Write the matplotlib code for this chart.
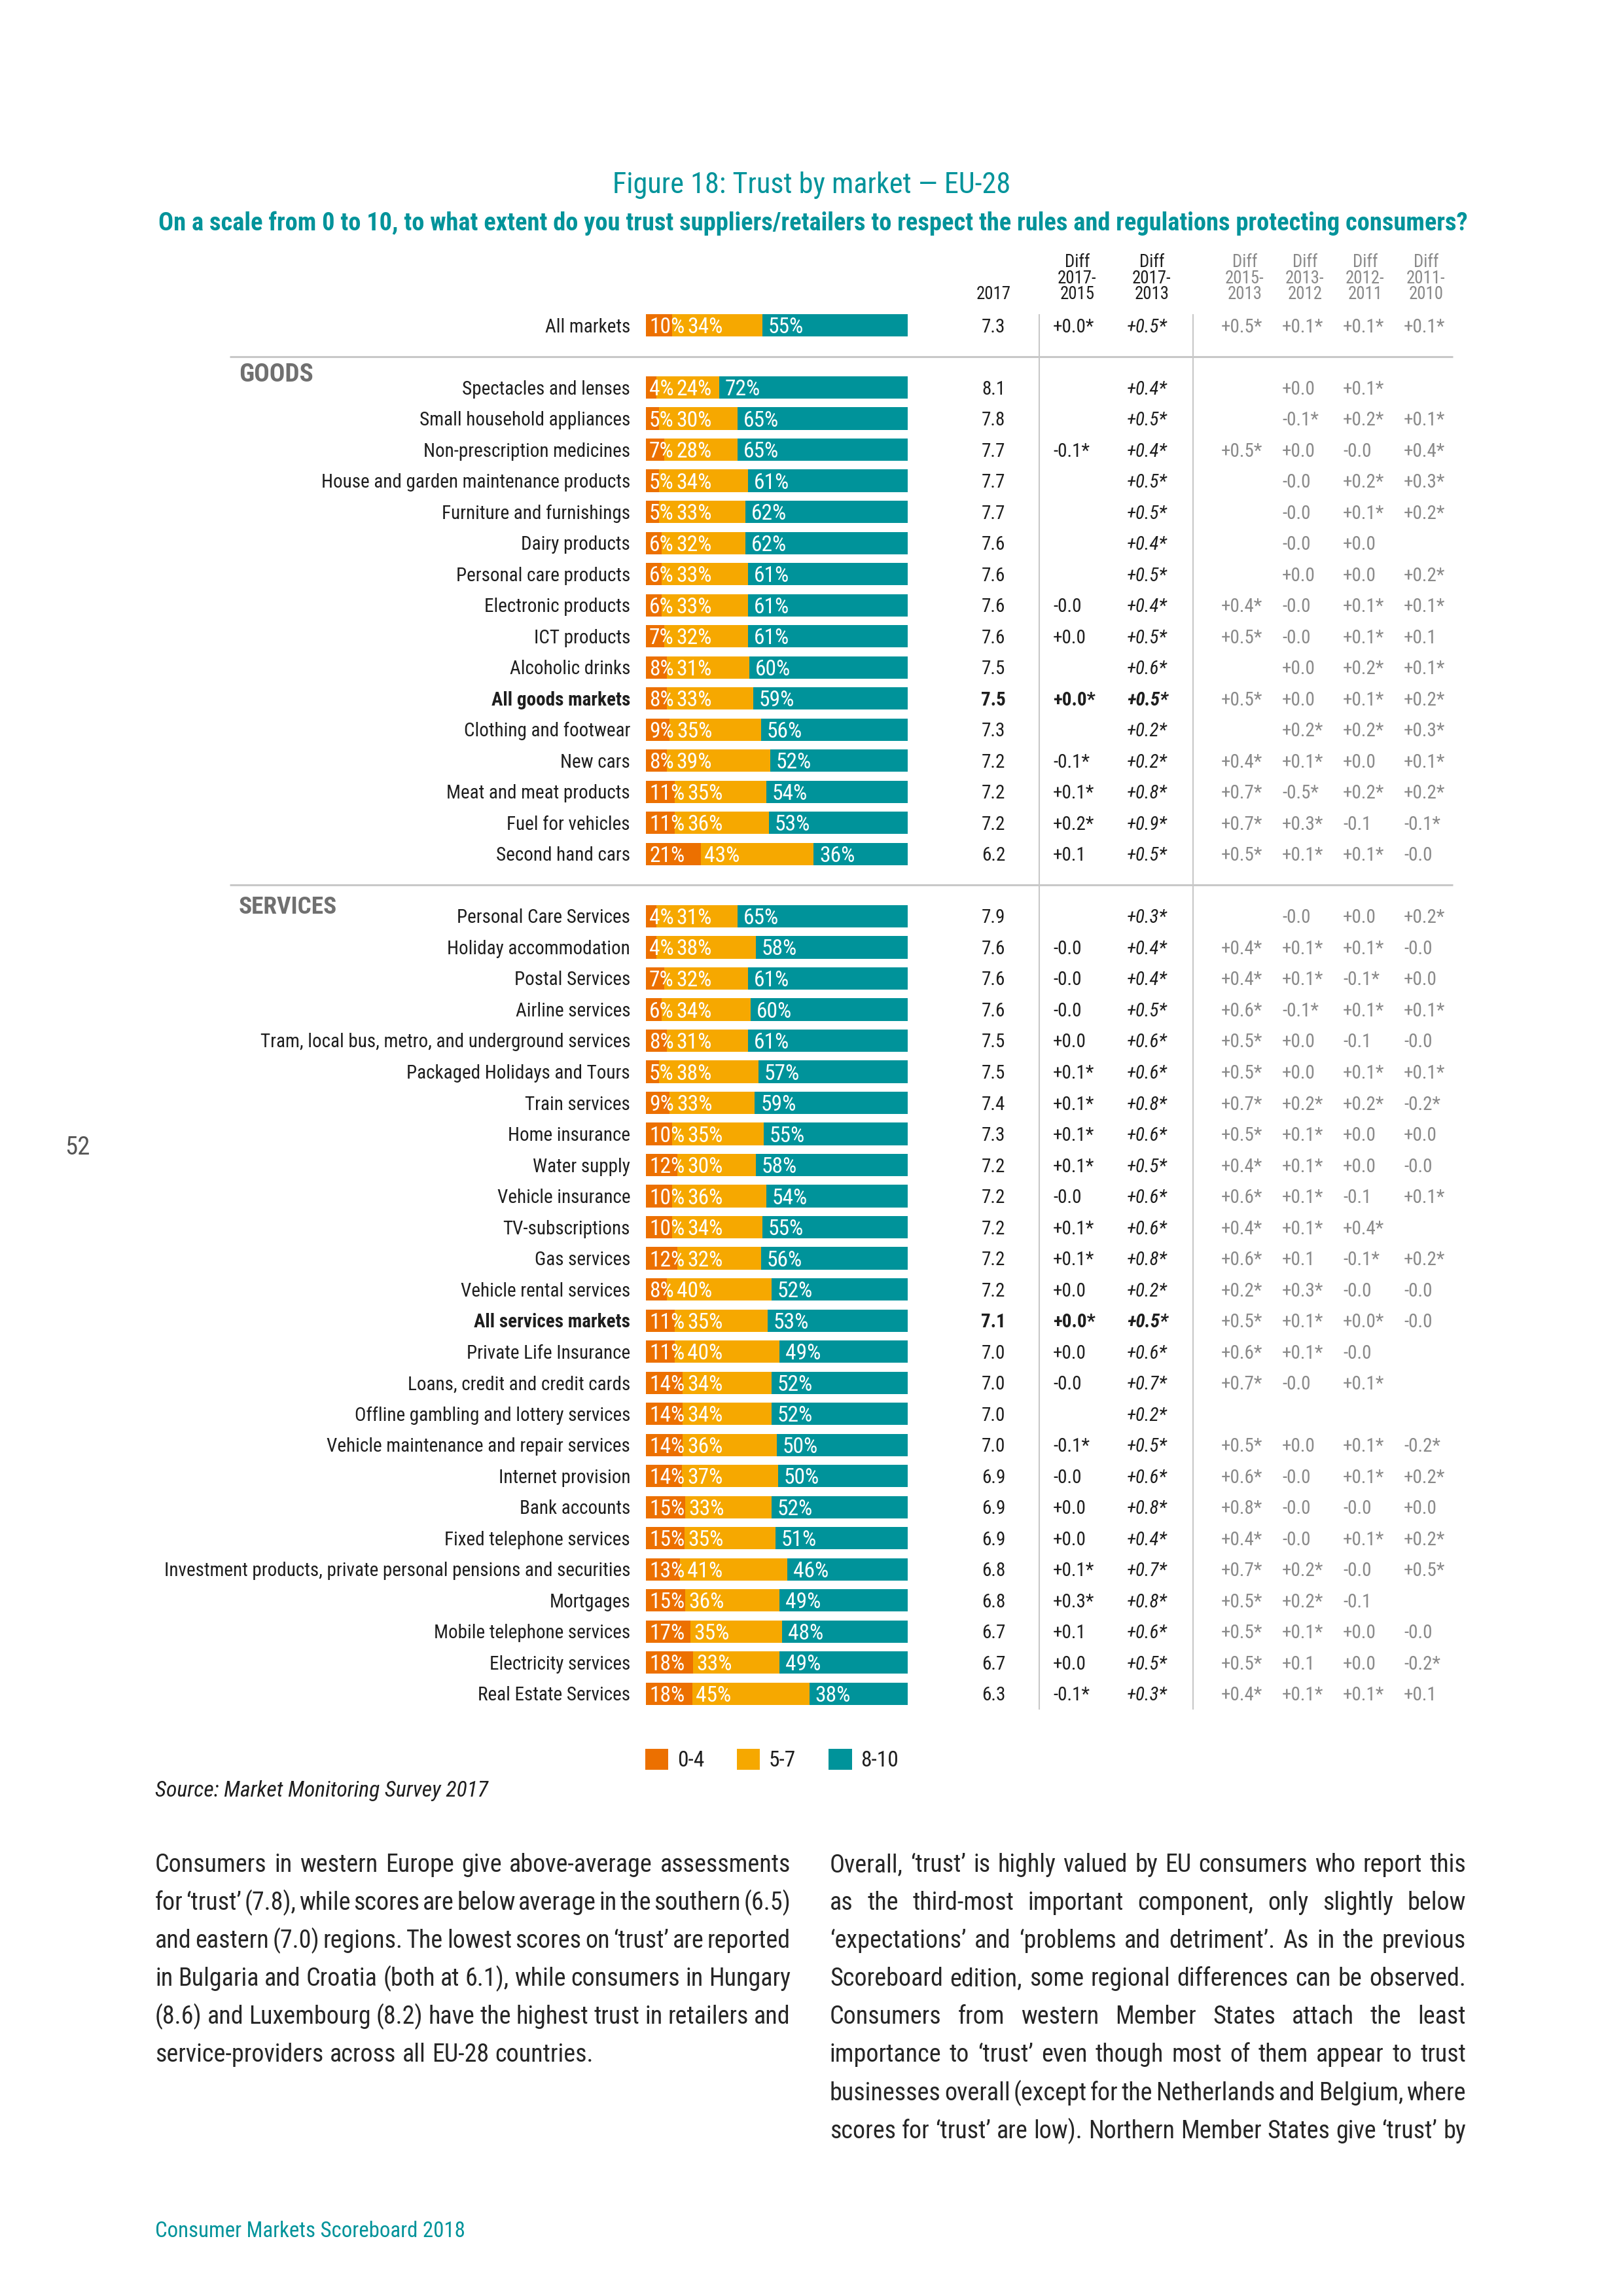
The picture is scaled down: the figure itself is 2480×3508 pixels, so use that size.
import matplotlib
matplotlib.use('Agg')
import matplotlib.pyplot as plt
from matplotlib import font_manager
from matplotlib.transforms import blended_transform_factory
import numpy as np

# ---------------------------------------------------------------- data
all_labels = ['All markets']
all_low = [10]
all_mid = [34]
all_high = [55]
all_score = [7.3]
all_d1715 = ['+0.0*']
all_d1713 = ['+0.5*']
all_d1513 = ['+0.5*']
all_d1312 = ['+0.1*']
all_d1211 = ['+0.1*']
all_d1110 = ['+0.1*']

goods_labels = ['Spectacles and lenses', 'Small household appliances', 'Non-prescription medicines',
                'House and garden maintenance products', 'Furniture and furnishings', 'Dairy products',
                'Personal care products', 'Electronic products', 'ICT products', 'Alcoholic drinks',
                'All goods markets', 'Clothing and footwear', 'New cars', 'Meat and meat products',
                'Fuel for vehicles', 'Second hand cars']
goods_low = [4, 5, 7, 5, 5, 6, 6, 6, 7, 8, 8, 9, 8, 11, 11, 21]
goods_mid = [24, 30, 28, 34, 33, 32, 33, 33, 32, 31, 33, 35, 39, 35, 36, 43]
goods_high = [72, 65, 65, 61, 62, 62, 61, 61, 61, 60, 59, 56, 52, 54, 53, 36]
goods_score = [8.1, 7.8, 7.7, 7.7, 7.7, 7.6, 7.6, 7.6, 7.6, 7.5, 7.5, 7.3, 7.2, 7.2, 7.2, 6.2]
goods_d1715 = ['', '', '-0.1*', '', '', '', '', '-0.0', '+0.0', '', '+0.0*', '', '-0.1*', '+0.1*', '+0.2*', '+0.1']
goods_d1713 = ['+0.4*', '+0.5*', '+0.4*', '+0.5*', '+0.5*', '+0.4*', '+0.5*', '+0.4*', '+0.5*', '+0.6*',
               '+0.5*', '+0.2*', '+0.2*', '+0.8*', '+0.9*', '+0.5*']
goods_d1513 = ['', '', '+0.5*', '', '', '', '', '+0.4*', '+0.5*', '', '+0.5*', '', '+0.4*', '+0.7*', '+0.7*', '+0.5*']
goods_d1312 = ['+0.0', '-0.1*', '+0.0', '-0.0', '-0.0', '-0.0', '+0.0', '-0.0', '-0.0', '+0.0', '+0.0',
               '+0.2*', '+0.1*', '-0.5*', '+0.3*', '+0.1*']
goods_d1211 = ['+0.1*', '+0.2*', '-0.0', '+0.2*', '+0.1*', '+0.0', '+0.0', '+0.1*', '+0.1*', '+0.2*', '+0.1*',
               '+0.2*', '+0.0', '+0.2*', '-0.1', '+0.1*']
goods_d1110 = ['', '+0.1*', '+0.4*', '+0.3*', '+0.2*', '', '+0.2*', '+0.1*', '+0.1', '+0.1*', '+0.2*',
               '+0.3*', '+0.1*', '+0.2*', '-0.1*', '-0.0']

serv_labels = ['Personal Care Services', 'Holiday accommodation', 'Postal Services', 'Airline services',
               'Tram, local bus, metro, and underground services', 'Packaged Holidays and Tours',
               'Train services', 'Home insurance', 'Water supply', 'Vehicle insurance', 'TV-subscriptions',
               'Gas services', 'Vehicle rental services', 'All services markets', 'Private Life Insurance',
               'Loans, credit and credit cards', 'Offline gambling and lottery services',
               'Vehicle maintenance and repair services', 'Internet provision', 'Bank accounts',
               'Fixed telephone services', 'Investment products, private personal pensions and securities',
               'Mortgages', 'Mobile telephone services', 'Electricity services', 'Real Estate Services']
serv_low = [4, 4, 7, 6, 8, 5, 9, 10, 12, 10, 10, 12, 8, 11, 11, 14, 14, 14, 14, 15, 15, 13, 15, 17, 18, 18]
serv_mid = [31, 38, 32, 34, 31, 38, 33, 35, 30, 36, 34, 32, 40, 35, 40, 34, 34, 36, 37, 33, 35, 41, 36, 35, 33, 45]
serv_high = [65, 58, 61, 60, 61, 57, 59, 55, 58, 54, 55, 56, 52, 53, 49, 52, 52, 50, 50, 52, 51, 46, 49, 48, 49, 38]
serv_score = [7.9, 7.6, 7.6, 7.6, 7.5, 7.5, 7.4, 7.3, 7.2, 7.2, 7.2, 7.2, 7.2, 7.1, 7.0, 7.0, 7.0, 7.0,
              6.9, 6.9, 6.9, 6.8, 6.8, 6.7, 6.7, 6.3]
serv_d1715 = ['', '-0.0', '-0.0', '-0.0', '+0.0', '+0.1*', '+0.1*', '+0.1*', '+0.1*', '-0.0', '+0.1*', '+0.1*',
              '+0.0', '+0.0*', '+0.0', '-0.0', '', '-0.1*', '-0.0', '+0.0', '+0.0', '+0.1*', '+0.3*', '+0.1',
              '+0.0', '-0.1*']
serv_d1713 = ['+0.3*', '+0.4*', '+0.4*', '+0.5*', '+0.6*', '+0.6*', '+0.8*', '+0.6*', '+0.5*', '+0.6*', '+0.6*',
              '+0.8*', '+0.2*', '+0.5*', '+0.6*', '+0.7*', '+0.2*', '+0.5*', '+0.6*', '+0.8*', '+0.4*', '+0.7*',
              '+0.8*', '+0.6*', '+0.5*', '+0.3*']
serv_d1513 = ['', '+0.4*', '+0.4*', '+0.6*', '+0.5*', '+0.5*', '+0.7*', '+0.5*', '+0.4*', '+0.6*', '+0.4*',
              '+0.6*', '+0.2*', '+0.5*', '+0.6*', '+0.7*', '', '+0.5*', '+0.6*', '+0.8*', '+0.4*', '+0.7*',
              '+0.5*', '+0.5*', '+0.5*', '+0.4*']
serv_d1312 = ['-0.0', '+0.1*', '+0.1*', '-0.1*', '+0.0', '+0.0', '+0.2*', '+0.1*', '+0.1*', '+0.1*', '+0.1*',
              '+0.1', '+0.3*', '+0.1*', '+0.1*', '-0.0', '', '+0.0', '-0.0', '-0.0', '-0.0', '+0.2*', '+0.2*',
              '+0.1*', '+0.1', '+0.1*']
serv_d1211 = ['+0.0', '+0.1*', '-0.1*', '+0.1*', '-0.1', '+0.1*', '+0.2*', '+0.0', '+0.0', '-0.1', '+0.4*',
              '-0.1*', '-0.0', '+0.0*', '-0.0', '+0.1*', '', '+0.1*', '+0.1*', '-0.0', '+0.1*', '-0.0', '-0.1',
              '+0.0', '+0.0', '+0.1*']
serv_d1110 = ['+0.2*', '-0.0', '+0.0', '+0.1*', '-0.0', '+0.1*', '-0.2*', '+0.0', '-0.0', '+0.1*', '',
              '+0.2*', '-0.0', '-0.0', '', '', '', '-0.2*', '+0.2*', '+0.0', '+0.2*', '+0.5*', '', '-0.0',
              '-0.2*', '+0.1']

bold_rows = ['All goods markets', 'All services markets']
section_titles = ['GOODS', 'SERVICES']
legend_labels = ['0-4', '5-7', '8-10']
col_headers = [('Diff', '2017-', '2015'), ('Diff', '2017-', '2013'), ('Diff', '2015-', '2013'),
               ('Diff', '2013-', '2012'), ('Diff', '2012-', '2011'), ('Diff', '2011-', '2010')]

body_left = ['Consumers in western Europe give above-average assessments',
             'for \u2018trust\u2019 (7.8), while scores are below average in the southern (6.5)',
             'and eastern (7.0) regions. The lowest scores on \u2018trust\u2019 are reported',
             'in Bulgaria and Croatia (both at 6.1), while consumers in Hungary',
             '(8.6) and Luxembourg (8.2) have the highest trust in retailers and',
             'service-providers across all EU-28 countries.']
body_right = ['Overall, \u2018trust\u2019 is highly valued by EU consumers who report this',
              'as the third-most important component, only slightly below',
              '\u2018expectations\u2019 and \u2018problems and detriment\u2019. As in the previous',
              'Scoreboard edition, some regional differences can be observed.',
              'Consumers from western Member States attach the least',
              'importance to \u2018trust\u2019 even though most of them appear to trust',
              'businesses overall (except for the Netherlands and Belgium, where',
              'scores for \u2018trust\u2019 are low). Northern Member States give \u2018trust\u2019 by']

# ---------------------------------------------------------------- style
W, H = 2480, 3508
ORANGE = '#EC7000'
YELLOW = '#F6A800'
TEAL = '#00939A'
TXT = '#1e1e1e'
GRAY = '#8a8a8a'
LINE = '#c8c8c8'

names = {f.name for f in font_manager.fontManager.ttflist}
def pick(*cands):
    for c in cands:
        if c in names:
            return c
    return 'DejaVu Sans'
FONT = pick('Liberation Sans Narrow', 'Roboto Condensed', 'Open Sans Condensed', 'Liberation Sans', 'Roboto')
plt.rcParams['font.family'] = [FONT, 'DejaVu Sans']

fig = plt.figure(figsize=(W / 100, H / 100), dpi=100)
fig.patch.set_facecolor('white')
r = fig.canvas.get_renderer()

def ftext(x, y, s, **kw):
    return fig.text(x / W, 1 - y / H, s, **kw)

def wpx(t):
    return t.get_window_extent(renderer=r).width

def fit(t, target, lo=8, hi=60):
    fs = t.get_fontsize()
    w = wpx(t)
    t.set_fontsize(min(hi, max(lo, fs * target / w)))
    return t

# ---------------------------------------------------------------- rows assembly
ROW0, PITCH = 497.0, 47.52
BAR_X0, BAR_W = 987, 400
PX_PER = BAR_W / 100.0

labels, low, mid, high, score, ks = [], [], [], [], [], []
diffs = [[] for _ in range(6)]
sections = [
    (all_labels, all_low, all_mid, all_high, all_score,
     [all_d1715, all_d1713, all_d1513, all_d1312, all_d1211, all_d1110], 0),
    (goods_labels, goods_low, goods_mid, goods_high, goods_score,
     [goods_d1715, goods_d1713, goods_d1513, goods_d1312, goods_d1211, goods_d1110], 2),
    (serv_labels, serv_low, serv_mid, serv_high, serv_score,
     [serv_d1715, serv_d1713, serv_d1513, serv_d1312, serv_d1211, serv_d1110], 19),
]
for lab, lo_, mi_, hi_, sc_, dd, k0 in sections:
    labels += lab; low += lo_; mid += mi_; high += hi_; score += sc_
    ks += list(range(k0, k0 + len(lab)))
    for j in range(6):
        diffs[j] += dd[j]
low, mid, high, ks = map(np.array, (low, mid, high, ks))
tot = low + mid + high
lo_n = low / tot * 100
mid_n = mid / tot * 100
hi_n = high / tot * 100

ax = fig.add_axes([BAR_X0 / W, 0, BAR_W / W, 1])
ax.set_xlim(0, 100)
ax.set_ylim((H - ROW0) / PITCH, -ROW0 / PITCH)
ax.axis('off')
trow = blended_transform_factory(fig.transFigure, ax.transData)

b1 = ax.barh(ks, lo_n, height=0.72, color=ORANGE, linewidth=0, label=legend_labels[0])
b2 = ax.barh(ks, mid_n, left=lo_n, height=0.72, color=YELLOW, linewidth=0, label=legend_labels[1])
b3 = ax.barh(ks, hi_n, left=lo_n + mid_n, height=0.72, color=TEAL, linewidth=0, label=legend_labels[2])

# calibrate label font so the longest label spans the same width as the reference
LABEL_FS = 19.5
probe = ftext(0, 0, max(labels, key=len), fontsize=LABEL_FS)
LABEL_FS = min(21, max(15, LABEL_FS * 726 / wpx(probe)))
probe.remove()
VAL_FS = LABEL_FS * 1.0
BAR_FS = LABEL_FS * 1.15
HDR_FS = LABEL_FS * 0.92

def off_for(fs):
    return (fs * 100 / 72 * 0.72 / 2) / PITCH

OFF = off_for(LABEL_FS)
BOFF = off_for(BAR_FS)

# bar value labels
SEG_PAD = [5, 5, 9]
SEG_GAP = [0, 4, 20]
for i, k in enumerate(ks):
    starts = [0, lo_n[i], lo_n[i] + mid_n[i]]
    vals = [low[i], mid[i], high[i]]
    prev_end = -1e9
    for n, (s, v) in enumerate(zip(starts, vals)):
        x = max(s + SEG_PAD[n] / PX_PER, prev_end + SEG_GAP[n] / PX_PER)
        t = ax.text(x, k + BOFF, f'{v}%', color='white', fontsize=BAR_FS, va='baseline', ha='left')
        prev_end = x + wpx(t) / PX_PER

# row labels and table values
COL_SCORE = 1518
COL_LEFT = [1609, 1722, 1866, 1959, 2052, 2145]
for i, k in enumerate(ks):
    isb = labels[i] in bold_rows
    wt = 'bold' if isb else 'normal'
    ax.text(963 / W, k + OFF, labels[i], transform=trow, ha='right', va='baseline',
            fontsize=LABEL_FS, color=TXT, weight=wt)
    ax.text(COL_SCORE / W, k + OFF, f'{score[i]:.1f}', transform=trow, ha='center', va='baseline',
            fontsize=VAL_FS, color=TXT, weight=wt)
    for j in range(6):
        s = diffs[j][i]
        if not s:
            continue
        kw = dict(transform=trow, ha='left', va='baseline', fontsize=VAL_FS)
        if j == 0:
            kw.update(color=TXT, weight=wt)
        elif j == 1:
            kw.update(color=TXT, weight=wt, style='italic')
        else:
            kw.update(color=GRAY)
        ax.text(COL_LEFT[j] / W, k + OFF, s, **kw)

# separators
for kk in (1, 18):
    ax.plot([351 / W, 2220 / W], [kk, kk], transform=trow, color=LINE, lw=2.2,
            clip_on=False, solid_capstyle='butt')
for xv in (1588, 1823):
    ax.plot([xv / W, xv / W], [-0.35, 44.5], transform=trow, color=LINE, lw=1.5,
            clip_on=False, solid_capstyle='butt')

# section titles
for (yb, s), tw in zip(((583, section_titles[0]), (1396, section_titles[1])), (114, 150)):
    t = ftext(365, yb, s, fontsize=LABEL_FS * 1.3, color='#707070', weight='bold', va='baseline')
    fit(t, tw)

# column headers
ftext(COL_SCORE, 457, '2017', ha='center', va='baseline', fontsize=HDR_FS, color=TXT)
hdr_cx = [1646, 1760, 1902, 1994, 2086, 2179]
for j, (cx, lines) in enumerate(zip(hdr_cx, col_headers)):
    c = TXT if j < 2 else GRAY
    for yb, s in zip((408, 433, 457), lines):
        ftext(cx, yb, s, ha='center', va='baseline', fontsize=HDR_FS, color=c)

# title & subtitle
t = ftext(W / 2, 295, 'Figure 18: Trust by market \u2014 EU-28', ha='center', va='baseline',
          fontsize=25, color=TEAL)
fit(t, 610)
t = ftext(1242, 352, 'On a scale from 0 to 10, to what extent do you trust suppliers/retailers to respect '
          'the rules and regulations protecting consumers?', ha='center', va='baseline',
          fontsize=23, color=TEAL, weight='bold')
fit(t, 2004)

# legend
fig.legend(handles=[b1, b2, b3], loc='center left', bbox_to_anchor=(986 / W, 1 - 2689 / H),
           ncol=3, frameon=False, fontsize=LABEL_FS * 1.15, handlelength=1.05, handleheight=1.1,
           handletextpad=0.4, columnspacing=1.5, borderpad=0, borderaxespad=0,
           labelcolor=TXT)

# source
t = ftext(237, 2745, 'Source: Market Monitoring Survey 2017', fontsize=LABEL_FS * 1.15, style='italic',
          color=TXT, va='baseline')
fit(t, 508)

# page number
ftext(118, 1753, '52', fontsize=28, color='#555555', ha='center', va='center')

# body text (justified)
BODY_FS = 25
cands = []
for line in body_left[:-1] + body_right:
    p = ftext(0, 0, line, fontsize=BODY_FS)
    n = len(line.split(' ')) - 1
    w_nat = wpx(p)
    sp = BODY_FS * 100 / 72 * 0.25
    words_w = w_nat - n * sp
    cands.append(BODY_FS * (971 - n * 5) / words_w)
    p.remove()
BODY_FS = min(28, max(18, min(cands)))

def justify(lines, x0, x1, y0, pitch, last_left):
    for i, line in enumerate(lines):
        yb = y0 + i * pitch
        words = line.split(' ')
        arts = [ftext(0, yb, wd, fontsize=BODY_FS, color='#262626', va='baseline', ha='left') for wd in words]
        ws = [wpx(a) for a in arts]
        if last_left and i == len(lines) - 1:
            gap = BODY_FS * 100 / 72 * 0.25
        else:
            gap = (x1 - x0 - sum(ws)) / max(1, len(words) - 1)
        x = x0
        for a, w_ in zip(arts, ws):
            a.set_x(x / W)
            x += w_ + gap

justify(body_left, 237, 1208, 2860, 58.1, True)
justify(body_right, 1268, 2240, 2860, 58.1, False)

# footer
t = ftext(237, 3418, 'Consumer Markets Scoreboard 2018', fontsize=23, color=TEAL, va='baseline')
fit(t, 477)

fig.savefig('out.png', dpi=100, facecolor='white')
